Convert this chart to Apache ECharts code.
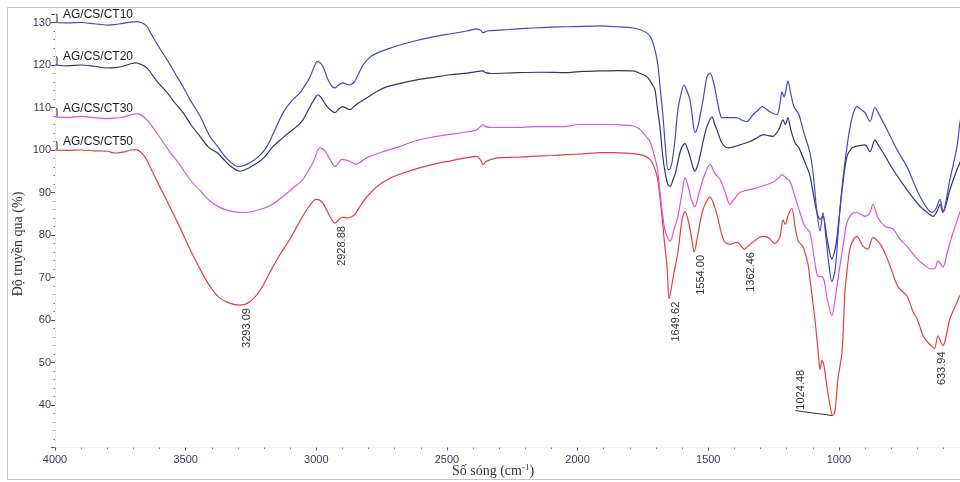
<!DOCTYPE html>
<html>
<head>
<meta charset="utf-8">
<script src="https://cdn.jsdelivr.net/npm/echarts@6/dist/echarts.min.js"></script>
<style>
  html, body { margin: 0; padding: 0; background: #ffffff; }
  #chart { width: 960px; height: 482px; }
</style>
</head>
<body>
<div id="chart"></div>
<script>
// FTIR transmittance spectra, [wavenumber (cm-1), transmittance (%)]
const seriesNames = ['AG/CS/CT10', 'AG/CS/CT20', 'AG/CS/CT30', 'AG/CS/CT50'];

const ct10 = [
  [4000,130],[3950,129.9],[3900,130],[3850,129.7],[3800,129.4],[3770,129.5],[3740,129.8],[3710,130.1],
  [3690,130.2],[3670,130],[3650,129.2],[3636,127.8],[3610,125],[3571,121.2],[3540,118],[3510,114.9],
  [3480,111.5],[3445,108],[3410,103.5],[3380,101],[3350,98.5],[3330,97.3],[3300,96.1],[3280,96.3],
  [3254,97],[3220,98.5],[3189,100.8],[3160,104.5],[3127,108.8],[3095,111.5],[3062,113.5],[3040,115.5],
  [3024,117.2],[3010,119.3],[2997,120.8],[2985,120.5],[2974,119.6],[2955,116.5],[2940,115],[2928,114.6],
  [2915,115.3],[2898,115.8],[2885,115.5],[2871,115.3],[2855,116],[2844,117.2],[2821,120],[2795,121.8],
  [2768,122.8],[2720,123.9],[2680,124.7],[2620,125.7],[2553,126.6],[2490,127.3],[2423,128],[2385,128.5],
  [2370,128.1],[2362,127.6],[2345,128],[2297,128.2],[2230,128.5],[2170,128.7],[2100,128.9],[2040,129],
  [1980,129.1],[1914,129.2],[1850,129],[1788,128.7],[1760,128.3],[1734,127.5],[1720,126.5],[1711,125.1],
  [1700,122.5],[1692,119.6],[1683,114],[1673,107.8],[1663,100],[1654,95.4],[1646,95.6],[1639,97],
  [1628,102],[1616,109.5],[1603,113.5],[1593,115.3],[1582,114],[1570,111.8],[1560,107.5],[1551,104.1],
  [1540,105.5],[1532,107.8],[1518,112.5],[1505,117.2],[1493,118.1],[1480,116],[1470,113],[1455,108.5],
  [1448,107.6],[1429,107.6],[1390,107.6],[1370,107],[1352,106.7],[1329,108.3],[1310,109.3],[1294,110.2],
  [1280,109.7],[1264,109],[1237,108.3],[1225,111],[1218,113.7],[1210,112.5],[1203,114],[1195,116.3],
  [1185,113.5],[1172,110.2],[1153,108.3],[1134,104.1],[1111,99.4],[1099,94.7],[1084,85.3],[1072,80.9],
  [1061,85.3],[1050,79.7],[1040,74],[1027,69],[1014,72],[1004,79.7],[990,90],[969,100.8],[950,107.5],
  [931,110.2],[915,109.5],[900,108.8],[881,106.7],[862,110],[850,108.8],[816,104.8],[778,100.1],
  [740,96.1],[715,92.5],[690,89.1],[665,86.5],[644,85.3],[630,86],[613,88.4],[602,85.6],[575,93.1],
  [548,100.8],[537,106.4],[525,110]
];

const ct20 = [
  [4000,120],[3950,119.8],[3900,120],[3850,119.7],[3800,119.3],[3770,119.4],[3740,119.7],[3710,120.3],
  [3690,120.5],[3670,120.1],[3650,119.4],[3636,118.4],[3610,116.2],[3571,113.5],[3540,111],[3510,108.8],
  [3480,106],[3445,103.2],[3410,100.5],[3380,99.4],[3350,97.5],[3330,96.3],[3293,95],[3260,95.7],
  [3230,96.8],[3200,98.2],[3166,100.8],[3130,102.8],[3101,104.3],[3075,105.5],[3051,107.1],[3030,109.5],
  [3017,111],[3000,112.7],[2993,113],[2980,112.2],[2960,110.3],[2940,109.1],[2928,108.8],[2915,109.6],
  [2898,110.2],[2885,109.8],[2871,109.5],[2857,110.2],[2840,111],[2806,112.3],[2770,113.7],[2729,114.9],
  [2670,115.8],[2615,116.5],[2550,117.1],[2488,117.7],[2420,118.1],[2380,118.5],[2362,118.6],[2352,118.2],
  [2330,118],[2232,118.2],[2140,118.3],[2040,118.2],[1980,118.5],[1914,118.6],[1850,118.7],[1788,118.6],
  [1760,118],[1734,117.2],[1715,115.5],[1704,114.2],[1695,110],[1685,105.5],[1675,99],[1665,94.7],
  [1655,92],[1646,91.4],[1635,93],[1625,94.7],[1610,99],[1600,100.8],[1589,101.5],[1578,100],
  [1570,98.5],[1560,96.2],[1551,95],[1540,96.5],[1532,98.5],[1518,102.5],[1505,105.5],[1486,107.8],
  [1475,106],[1467,104.8],[1448,101.7],[1425,100.5],[1400,100.8],[1379,101.2],[1340,102],[1310,103],
  [1290,103.6],[1270,103.4],[1253,103.2],[1230,104.8],[1214,107.1],[1205,106],[1195,107.6],[1185,105],
  [1168,101.7],[1153,100.5],[1126,96.5],[1111,94],[1099,90],[1084,85.3],[1072,83.7],[1061,84.4],
  [1045,79],[1027,74.4],[1012,77.5],[1004,81.4],[985,92],[969,98.5],[950,100.5],[939,100.8],
  [900,101.2],[881,99.6],[862,102.4],[850,101.2],[831,99.4],[793,95.4],[740,90.7],[690,86.8],
  [660,85.2],[640,84.4],[625,85.5],[613,87.2],[602,85.3],[575,90.7],[548,95.4],[537,97],[525,99]
];

const ct30 = [
  [4000,107.8],[3950,107.7],[3900,107.9],[3850,107.6],[3800,107.4],[3770,107.5],[3740,107.7],[3710,108.3],
  [3690,108.5],[3670,108.2],[3650,107.2],[3636,106.2],[3610,104],[3560,99.5],[3522,96.5],[3483,93],
  [3445,90.5],[3407,88],[3370,86.5],[3330,85.6],[3278,85.3],[3215,86],[3166,87.3],[3127,89.1],
  [3090,91],[3051,93.1],[3013,97],[2986,100.5],[2970,100],[2959,99],[2940,97],[2928,96.1],
  [2915,97],[2902,97.8],[2871,97.3],[2850,96.6],[2830,97.2],[2806,98.2],[2745,99.6],[2680,100.8],
  [2629,102],[2560,103],[2499,103.6],[2420,104.3],[2385,104.8],[2370,105.6],[2362,106],[2352,105.5],
  [2330,105.3],[2247,105.3],[2155,105.5],[2055,105.5],[1991,106],[1930,106],[1864,106],[1810,105.8],
  [1788,105.7],[1765,105],[1750,104.1],[1735,103],[1723,102],[1710,99.5],[1696,96.1],[1686,91],
  [1677,86],[1665,81],[1646,78.5],[1630,81.5],[1616,84.4],[1600,90],[1589,93.5],[1575,91],
  [1563,88],[1551,86.7],[1535,90],[1515,94],[1493,96.6],[1475,94.5],[1455,93.1],[1435,90],
  [1417,87.2],[1400,88.5],[1379,90],[1314,91.1],[1253,92.4],[1230,93.5],[1218,94.2],[1200,93.3],
  [1187,92.6],[1168,89],[1149,85.3],[1130,82],[1111,80.6],[1092,73.5],[1080,70.3],[1061,70.1],
  [1045,65],[1027,61],[1012,66],[996,72.8],[980,79],[969,83],[950,85],[931,85.3],
  [900,84.4],[881,85.3],[870,87.2],[850,84],[823,82],[793,81.4],[766,79],[740,77.4],
  [701,74.4],[670,72.8],[651,72],[632,72.2],[621,73.9],[602,72.5],[585,76],[563,80.6],
  [537,85.3],[525,88]
];

const ct50 = [
  [4000,100],[3950,99.9],[3900,100],[3850,99.8],[3800,99.7],[3770,99.3],[3740,99.5],[3710,100],
  [3690,100.1],[3670,99.4],[3650,97.8],[3636,96],[3600,91.5],[3560,86.6],[3520,81.5],[3483,76.6],
  [3445,72],[3407,67.9],[3370,65.2],[3330,63.9],[3293.09,63.5],[3254,64.3],[3215,67],[3177,71.3],
  [3140,75.3],[3101,79],[3065,83],[3036,86],[3010,88.1],[2997,88.4],[2975,87.5],[2948,84.4],
  [2928.88,82.8],[2910,83.8],[2898,84.2],[2880,84],[2865,84.3],[2852,84.9],[2830,87],[2806,89],
  [2775,91],[2745,92.4],[2710,93.6],[2680,94.3],[2615,95.6],[2553,96.6],[2490,97.4],[2423,98.2],
  [2385,98.5],[2370,97.5],[2362,96.6],[2350,97.3],[2330,97.8],[2297,98.2],[2240,98.3],[2170,98.5],
  [2100,98.7],[2040,98.9],[1980,99.1],[1914,99.4],[1864,99.4],[1800,99.2],[1761,98.9],[1740,98.5],
  [1723,97.8],[1710,96.5],[1696,93.8],[1686,89.5],[1677,84.4],[1668,78.5],[1658,72.7],[1649.62,65],
  [1640,68],[1630,71.5],[1616,76],[1600,83.7],[1589,85.5],[1575,83],[1563,79],[1554.00,76],
  [1540,80],[1520,86],[1493,88.9],[1475,86.5],[1465,84.4],[1450,80.5],[1436,78.3],[1417,77.8],
  [1390,78.3],[1375,77.5],[1362.46,76.7],[1340,77.8],[1314,79],[1294,79.7],[1270,79.4],[1245,78],
  [1226,79.5],[1214,83.5],[1205,82.5],[1195,84.5],[1180,86.3],[1168,82],[1155,78.5],[1137,77.2],
  [1118,73],[1111,69.7],[1092,60.3],[1080,53],[1072,48.3],[1065,50.5],[1058,49.5],[1045,44],
  [1034,40],[1024.48,37.5],[1015,38.5],[1004,46],[988,52.5],[977,66.6],[969,71.5],[960,76],
  [950,78.3],[931,79.7],[908,77.4],[889,76.7],[870,79.4],[850,78.5],[831,76.7],[804,72.7],
  [774,67.8],[740,65.7],[716,61.9],[701,60.3],[678,56.3],[663,55],[645,53.8],[633.94,53.3],
  [621,56.3],[602,54],[594,55],[575,60.3],[548,64.2],[537,65.7],[520,67]
];

const seriesData = [ct10, ct20, ct30, ct50];
const seriesColors = ['#4646c8', '#34346e', '#e050e0', '#e04040'];

// axis ranges and tick steps
const xRange = [500, 4000];
const xStep = 500;
const yRange = [30, 132];
const yStep = 10;
const yLabelValues = [40, 50, 60, 70, 80, 90, 100, 110, 120, 130];

// annotated band positions on the AG/CS/CT50 trace
const peakLabels = [3293.09, 2928.88, 1649.62, 1554.00, 1362.46, 1024.48, 633.94];

const tickFont = "'Liberation Sans Narrow', 'Liberation Sans', Arial, sans-serif";
const textFont = "'Liberation Sans', Arial, sans-serif";
const serifFont = "'Liberation Serif', 'Times New Roman', serif";

const chart = echarts.init(document.getElementById('chart'), null, { renderer: 'canvas' });

// the plot area runs past the right edge of the page, so the 500 end is cut off
const gridLeft = 55, gridTop = 14;
const pxPerUnitX = 0.2613;
const gridWidth = (xRange[1] - xRange[0]) * pxPerUnitX;
const gridHeight = 433.5;

chart.setOption({
  animation: false,
  backgroundColor: '#ffffff',
  grid: {
    left: gridLeft, top: gridTop, width: gridWidth, height: gridHeight,
    containLabel: false, outerBoundsMode: 'none'
  },
  xAxis: {
    type: 'value',
    inverse: true,
    min: xRange[0],
    max: xRange[1],
    interval: xStep,
    splitLine: { show: false },
    axisLine: { show: true, lineStyle: { color: '#f1f1dc', width: 1 } },
    axisTick: { show: true, length: 3, lineStyle: { color: '#555566' } },
    minorTick: { show: true, splitNumber: 5, length: 1.5, lineStyle: { color: '#777788' } },
    axisLabel: {
      margin: 7,
      color: '#3a3a5c',
      fontSize: 11,
      fontFamily: tickFont,
      formatter: v => (v > xRange[0] ? String(v) : '')
    }
  },
  yAxis: {
    type: 'value',
    min: yRange[0],
    max: yRange[1],
    interval: yStep,
    splitLine: { show: false },
    axisLine: { show: true, lineStyle: { color: '#f1f1dc', width: 1 } },
    axisTick: { show: true, length: 4, lineStyle: { color: '#555566' } },
    minorTick: { show: true, splitNumber: 5, length: 1.5, lineStyle: { color: '#777788' } },
    axisLabel: {
      margin: 4,
      color: '#3a3a5c',
      fontSize: 11,
      fontFamily: tickFont,
      formatter: v => (yLabelValues.indexOf(v) >= 0 ? String(v) : '')
    }
  },
  series: seriesData.map((d, i) => ({
    name: seriesNames[i],
    type: 'line',
    data: d,
    showSymbol: false,
    smooth: 0.3,
    clip: true,
    lineStyle: { color: seriesColors[i], width: 1.2 },
    itemStyle: { color: seriesColors[i] },
    z: 4 - i
  }))
});

// overlay: frame, axis titles, trace names and band labels
const toPx = (wn, v) => chart.convertToPixel({ gridIndex: 0 }, [wn, v]);
const graphics = [];

graphics.push({
  type: 'rect', silent: true,
  shape: { x: 7.5, y: 7.5, width: 1000, height: 472 },
  style: { fill: 'none', stroke: '#c4c4c4', lineWidth: 1 }
});

graphics.push({
  type: 'text', silent: true,
  x: 18, y: 244, rotation: Math.PI / 2,
  style: {
    text: 'Độ truyền qua (%)', fill: '#333333',
    font: '14px ' + serifFont, align: 'center', verticalAlign: 'middle'
  }
});

graphics.push({
  type: 'text', silent: true,
  x: 493, y: 471,
  style: {
    text: 'Số sóng (cm{sup|-1})', fill: '#333333',
    font: '14px ' + serifFont, align: 'center', verticalAlign: 'middle',
    rich: { sup: { fontSize: 9, fontFamily: serifFont, verticalAlign: 'top', padding: [0, 0, 7, 0], fill: '#333333' } }
  }
});

seriesData.forEach((d, i) => {
  const p = toPx(d[0][0], d[0][1]);
  graphics.push({
    type: 'polyline', silent: true,
    shape: { points: [[p[0] + 2, p[1]], [p[0] + 2, p[1] - 8], [p[0] + 0.5, p[1] - 8.5]] },
    style: { stroke: '#222222', lineWidth: 1, fill: 'none' }
  });
  graphics.push({
    type: 'text', silent: true,
    x: p[0] + 8, y: p[1] - 8,
    style: {
      text: seriesNames[i], fill: '#1a1a1a',
      font: '12px ' + textFont, align: 'left', verticalAlign: 'middle'
    }
  });
});

peakLabels.forEach(wn => {
  const pt = ct50.find(d => d[0] === wn);
  const p = toPx(pt[0], pt[1]);
  const txt = wn.toFixed(2);
  if (wn === 1024.48) {
    const a = [p[0] - 37, p[1] - 5];
    graphics.push({
      type: 'line', silent: true,
      shape: { x1: a[0], y1: a[1], x2: p[0], y2: p[1] },
      style: { stroke: '#333333', lineWidth: 1 }
    });
    graphics.push({
      type: 'text', silent: true,
      x: a[0] + 5, y: a[1] - 1, rotation: Math.PI / 2,
      style: { text: txt, fill: '#333333', font: '11px ' + textFont, align: 'left', verticalAlign: 'middle' }
    });
  } else {
    graphics.push({
      type: 'text', silent: true,
      x: p[0] + 7, y: p[1] + 3, rotation: Math.PI / 2,
      style: { text: txt, fill: '#333333', font: '11px ' + textFont, align: 'right', verticalAlign: 'middle' }
    });
  }
});

chart.setOption({ graphic: graphics });
</script>
</body>
</html>
